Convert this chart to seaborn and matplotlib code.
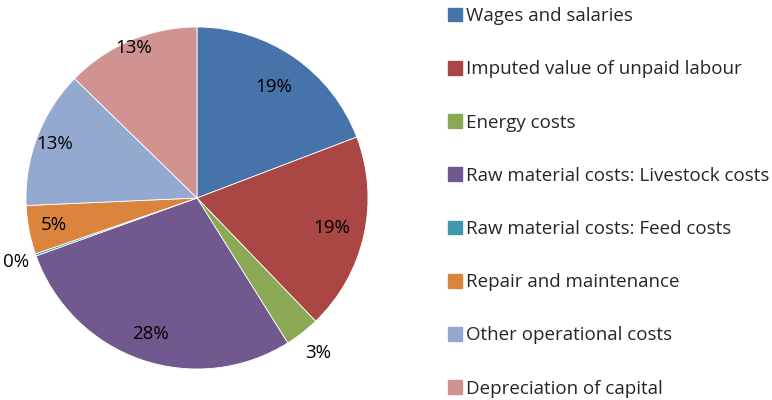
import matplotlib
matplotlib.use("Agg")
import matplotlib.pyplot as plt
import seaborn as sns
import numpy as np

categories = ["Wages and salaries", "Imputed value of unpaid labour", "Energy costs",
              "Raw material costs: Livestock costs", "Raw material costs: Feed costs",
              "Repair and maintenance", "Other operational costs", "Depreciation of capital"]
shares = [19.2, 18.6, 3.3, 28.4, 0.2, 4.6, 13.0, 12.7]
colors = ["#4674AA", "#AA4644", "#8BA855", "#71588F", "#4198AF", "#DB843D", "#93A9CF", "#D19392"]

# how far from the centre each percentage sits (fraction of radius)
label_dist = [0.79, 0.81, 1.15, 0.84, 1.12, 0.85, 0.89, 0.95]

sns.set_theme(style="white")
plt.rcParams["font.family"] = ["Open Sans", "DejaVu Sans"]

fig = plt.figure(figsize=(7.72, 4.0), dpi=100)
ax = fig.add_axes([26 / 772, 31 / 400, 342 / 772, 342 / 400])

wedges, _ = ax.pie(shares, colors=colors, startangle=90, counterclock=False,
                   wedgeprops=dict(edgecolor="white", linewidth=0.6))
ax.set_xlim(-1, 1)
ax.set_ylim(-1, 1)
ax.set_aspect("equal")
ax.axis("off")

for w, v, d in zip(wedges, shares, label_dist):
    ang = np.deg2rad((w.theta1 + w.theta2) / 2)
    ax.text(d * np.cos(ang), d * np.sin(ang), "%d%%" % round(v),
            ha="center", va="center", fontsize=13.5, color="black", clip_on=False)

handles = [plt.Rectangle((0, 0), 1, 1, color=c) for c in colors]
fig.legend(handles, categories, loc="upper left", bbox_to_anchor=(448 / 772, 1 - 7 / 400),
           frameon=False, fontsize=13.5, handlelength=0.75, handleheight=0.75,
           handletextpad=0.2, labelspacing=1.88, borderpad=0, borderaxespad=0)

fig.savefig("out.png", dpi=100)
